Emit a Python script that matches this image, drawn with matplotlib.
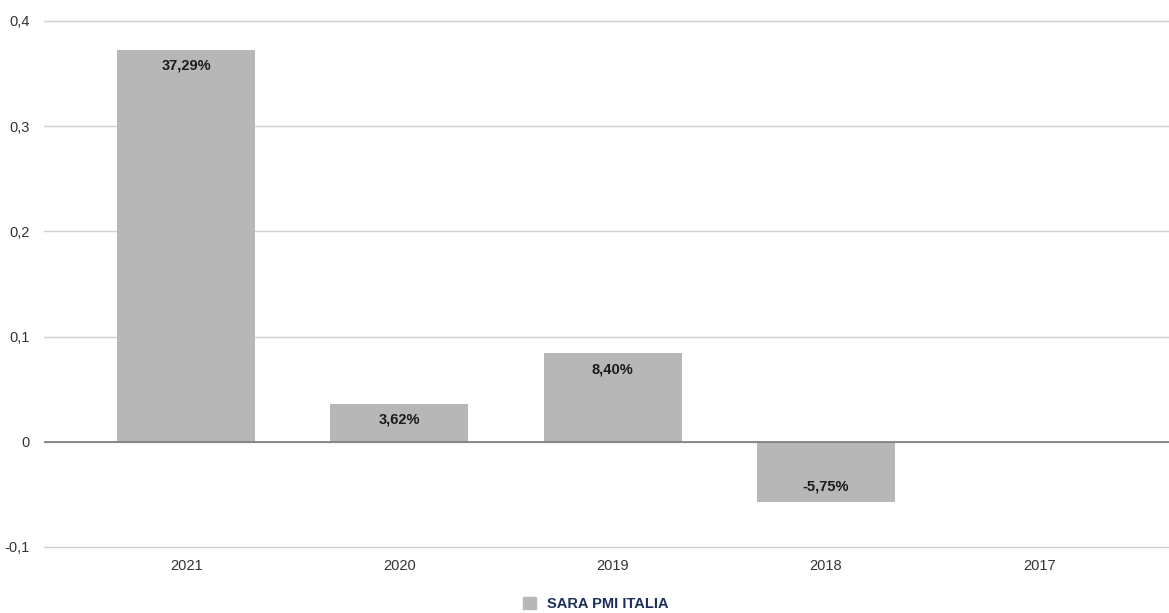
import numpy as np
import matplotlib
matplotlib.use("Agg")
import matplotlib.pyplot as plt
from matplotlib.patches import Patch

plt.rcParams['font.family'] = ['Liberation Sans', 'DejaVu Sans']

categories = ["2021", "2020", "2019", "2018", "2017"]
values = [0.3729, 0.0362, 0.0840, -0.0575, np.nan]
labels = ["37,29%", "3,62%", "8,40%", "-5,75%", ""]
yticks = [-0.1, 0, 0.1, 0.2, 0.3, 0.4]
ytick_labels = ["-0,1", "0", "0,1", "0,2", "0,3", "0,4"]
series_name = "SARA PMI ITALIA"

W, H = 1169, 613
fig = plt.figure(figsize=(W / 100, H / 100), dpi=100)
ax = fig.add_axes([44 / W, 1 - 547 / H, (W - 44) / W, (547 - 21) / H])

x = np.arange(len(categories))
bar_color = "#b7b7b7"
bars = ax.bar(x, values, width=0.647, color=bar_color, zorder=3)

for xi, v, lab in zip(x, values, labels):
    if np.isnan(v) or not lab:
        continue
    if v >= 0:
        ax.annotate(lab, (xi, v), xytext=(0, -6.5), textcoords="offset points",
                    ha="center", va="top", fontsize=10.5, fontweight="bold",
                    color="#1a1a1a", zorder=4)
    else:
        ax.annotate(lab, (xi, v), xytext=(0, 6), textcoords="offset points",
                    ha="center", va="bottom", fontsize=10.5, fontweight="bold",
                    color="#1a1a1a", zorder=4)

ax.set_ylim(-0.1, 0.4)
ax.set_xlim(-0.666, 4.608)
ax.set_yticks(yticks)
ax.set_yticklabels(ytick_labels)
ax.set_xticks(x)
ax.set_xticklabels(categories)
ax.grid(axis="y", color="#d0d0d0", linewidth=1, zorder=0)
for gl in ax.get_ygridlines():
    gl.set_clip_on(False)
ax.axhline(0, color="#7a7a7a", linewidth=1.2, zorder=5)
for s in ax.spines.values():
    s.set_visible(False)
ax.tick_params(axis="both", length=0, labelsize=10.5, colors="#333333")
ax.tick_params(axis="y", pad=10)
ax.tick_params(axis="x", pad=9)

fig.legend(handles=[Patch(color=bar_color, label=series_name)],
           loc="center", bbox_to_anchor=(596 / W, 1 - 604 / H), frameon=False,
           handlelength=0.85, handleheight=0.85, handletextpad=0.8,
           prop={'weight': 'bold', 'size': 10.5}, labelcolor="#1c2e5e")

fig.savefig("out.png", dpi=100)
